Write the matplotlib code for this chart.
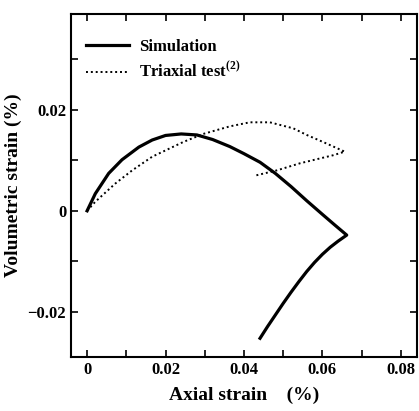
import matplotlib
matplotlib.use("Agg")
import matplotlib.pyplot as plt
from matplotlib.ticker import MultipleLocator

plt.rcParams['font.family'] = ['Liberation Serif', 'DejaVu Serif']
plt.rcParams['font.weight'] = 'bold'
plt.rcParams['mathtext.fontset'] = 'custom'
plt.rcParams['mathtext.rm'] = 'Liberation Serif:bold'

# simulation curve (axial strain, volumetric strain)
sim_x = [0, 0.0021, 0.0055, 0.0089, 0.0132, 0.0166, 0.0200, 0.0240, 0.0280, 0.0320,
         0.0364, 0.0400, 0.0441, 0.0480, 0.0520, 0.0560, 0.0600, 0.0630, 0.0662,
         0.0640, 0.0620, 0.0600, 0.0580, 0.0560, 0.0540, 0.0520, 0.0500, 0.0480,
         0.0460, 0.0441]
sim_y = [0, 0.0034, 0.0074, 0.0101, 0.0126, 0.0140, 0.0149, 0.0152, 0.0150, 0.0141,
         0.0127, 0.0113, 0.0096, 0.0074, 0.0048, 0.0020, -0.0007, -0.0027, -0.0048,
         -0.0060, -0.0072, -0.0086, -0.0102, -0.0120, -0.0140, -0.0161, -0.0183, -0.0206,
         -0.0229, -0.0252]

# triaxial test
tri_x = [0, 0.0021, 0.0072, 0.0115, 0.0166, 0.0245, 0.0296, 0.0364, 0.0415, 0.0466,
         0.0526, 0.056, 0.0602, 0.0657, 0.0628, 0.0543, 0.0484, 0.0425]
tri_y = [0, 0.0018, 0.0054, 0.0080, 0.0107, 0.0136, 0.0152, 0.0167, 0.0175, 0.0175,
         0.0163, 0.0150, 0.0136, 0.0117, 0.0110, 0.0094, 0.0080, 0.0069]

fig = plt.figure(figsize=(4.19, 4.11), dpi=100)
ax = fig.add_axes([0.1695, 0.1314, 0.8255, 0.8356])

ax.plot(sim_x, sim_y, color='black', lw=2.3, label='Simulation')
ax.plot(tri_x, tri_y, color='black', lw=1.4, linestyle=(0, (1, 1.5)),
        label='Triaxial test$^{(2)}$')

ax.set_xlim(-0.0041, 0.0841)
ax.set_ylim(-0.0289, 0.039)
ax.xaxis.set_minor_locator(MultipleLocator(0.01))
ax.yaxis.set_minor_locator(MultipleLocator(0.01))
ax.set_xticks([0, 0.02, 0.04, 0.06, 0.08])
ax.set_xticklabels(['0', '0.02', '0.04', '0.06', '0.08'])
ax.set_yticks([-0.02, 0, 0.02])
ax.set_yticklabels(['\u22120.02', '0', '0.02'])
ax.tick_params(which='both', direction='in', top=True, right=True, labelsize=12, width=1.2)
ax.tick_params(which='major', length=5)
ax.tick_params(which='minor', length=5)
for s in ax.spines.values():
    s.set_linewidth(1.5)

ax.set_xlabel('Axial strain    (%)', fontsize=14, fontweight='bold', labelpad=6)
ax.set_ylabel('Volumetric strain (%)', fontsize=14, fontweight='bold', labelpad=4)

ax.legend(loc='upper left', bbox_to_anchor=(0.0, 0.97), frameon=False, fontsize=12,
          handlelength=2.6, handletextpad=0.6, labelspacing=0.4)

fig.savefig('out.png', dpi=100)
